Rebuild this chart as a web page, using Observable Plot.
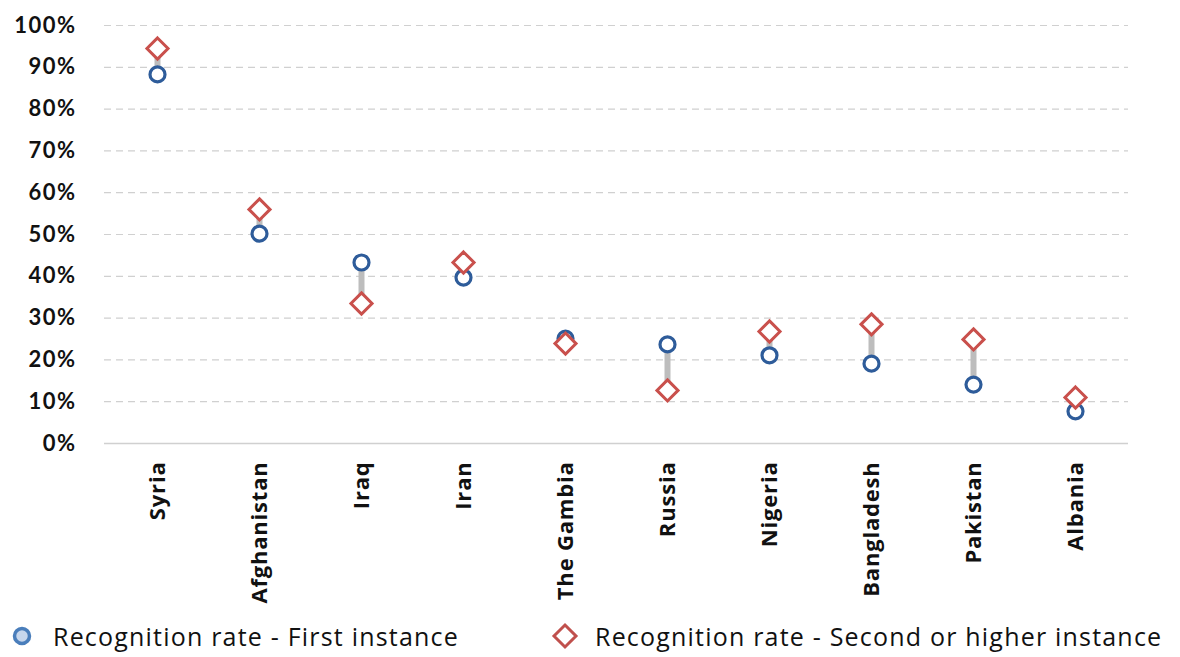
<!DOCTYPE html>
<html><head><meta charset="utf-8">
<script src="https://cdn.jsdelivr.net/npm/d3@7"></script>
<script src="https://cdn.jsdelivr.net/npm/@observablehq/plot@0.6"></script>
<style>
body{margin:0;background:#fff;font-family:Lato,"Open Sans",sans-serif;overflow:hidden;}
#legend{position:relative;height:39px;font-family:"Open Sans",sans-serif;font-size:25px;letter-spacing:1.2px;color:#111;}
#legend .item{position:absolute;top:0px;display:flex;align-items:center;height:36px;line-height:30px;}
</style></head><body>
<div id="chart"></div>
<div id="legend">
  <div class="item" style="left:12px"><svg width="22" height="28"><circle cx="10" cy="14" r="7.5" fill="#c6d6ec" stroke="#4a7ebb" stroke-width="3.5"/></svg><span style="margin-left:19px">Recognition rate - First instance</span></div>
  <div class="item" style="left:550px"><svg width="32" height="30"><path d="M15 4 L26 15 L15 26 L4 15 Z" fill="#fff" stroke="#c0504d" stroke-width="3"/></svg><span style="margin-left:13px">Recognition rate - Second or higher instance</span></div>
</div>
<script>
const countries = ["Syria","Afghanistan","Iraq","Iran","The Gambia","Russia","Nigeria","Bangladesh","Pakistan","Albania"];
const firstInstance = [0.883,0.502,0.433,0.397,0.251,0.237,0.211,0.191,0.141,0.077];
const secondInstance = [0.945,0.560,0.335,0.433,0.239,0.127,0.268,0.285,0.249,0.110];
const yTicks = [0,0.1,0.2,0.3,0.4,0.5,0.6,0.7,0.8,0.9,1.0];

const data = countries.map((c,i)=>({country:c, first:firstInstance[i], second:secondInstance[i]}));

const chart = Plot.plot({
  width: 1180,
  height: 618,
  marginTop: 25,
  marginBottom: 175,
  marginLeft: 104,
  marginRight: 52,
  style: {fontFamily: "Lato, 'Open Sans', sans-serif", background: "#fff", color: "#111"},
  x: {type: "point", domain: countries, padding: 0.5, label: null},
  y: {domain: [0, 1], label: null},
  marks: [
    Plot.ruleY(yTicks.filter(d => d > 0), {stroke: "#d0d0d0", strokeWidth: 1.2, strokeDasharray: "7,5"}),
    Plot.ruleY([0], {stroke: "#d0d0d0", strokeWidth: 1.5}),
    Plot.axisY({ticks: yTicks, tickFormat: d => Math.round(d*100) + "%", tickSize: 0, tickPadding: 28, fontSize: 22, fontWeight: "bold", label: null}),
    Plot.axisX({tickSize: 0, tickPadding: 18, tickRotate: -90, fontSize: 22, fontWeight: "bold", fontFamily: "'Open Sans', sans-serif", label: null}),
    Plot.ruleX(data, {x: "country", y1: "first", y2: "second", stroke: "#bdbdbd", strokeWidth: 6}),
    Plot.dot(data, {x: "country", y: "first", r: 7.5, stroke: "#2e5c9a", strokeWidth: 3.2, fill: "#fff"}),
    Plot.dot(data, {x: "country", y: "second", symbol: "diamond2", r: 9.5, stroke: "#c9504c", strokeWidth: 3, fill: "#fff"})
  ]
});
chart.querySelectorAll('g[aria-label="y-axis tick label"] text').forEach(t => t.style.letterSpacing = "1.5px");
chart.querySelectorAll('g[aria-label="x-axis tick label"] text').forEach(t => t.style.letterSpacing = "0.8px");
document.getElementById("chart").appendChild(chart);
</script>
</body></html>
